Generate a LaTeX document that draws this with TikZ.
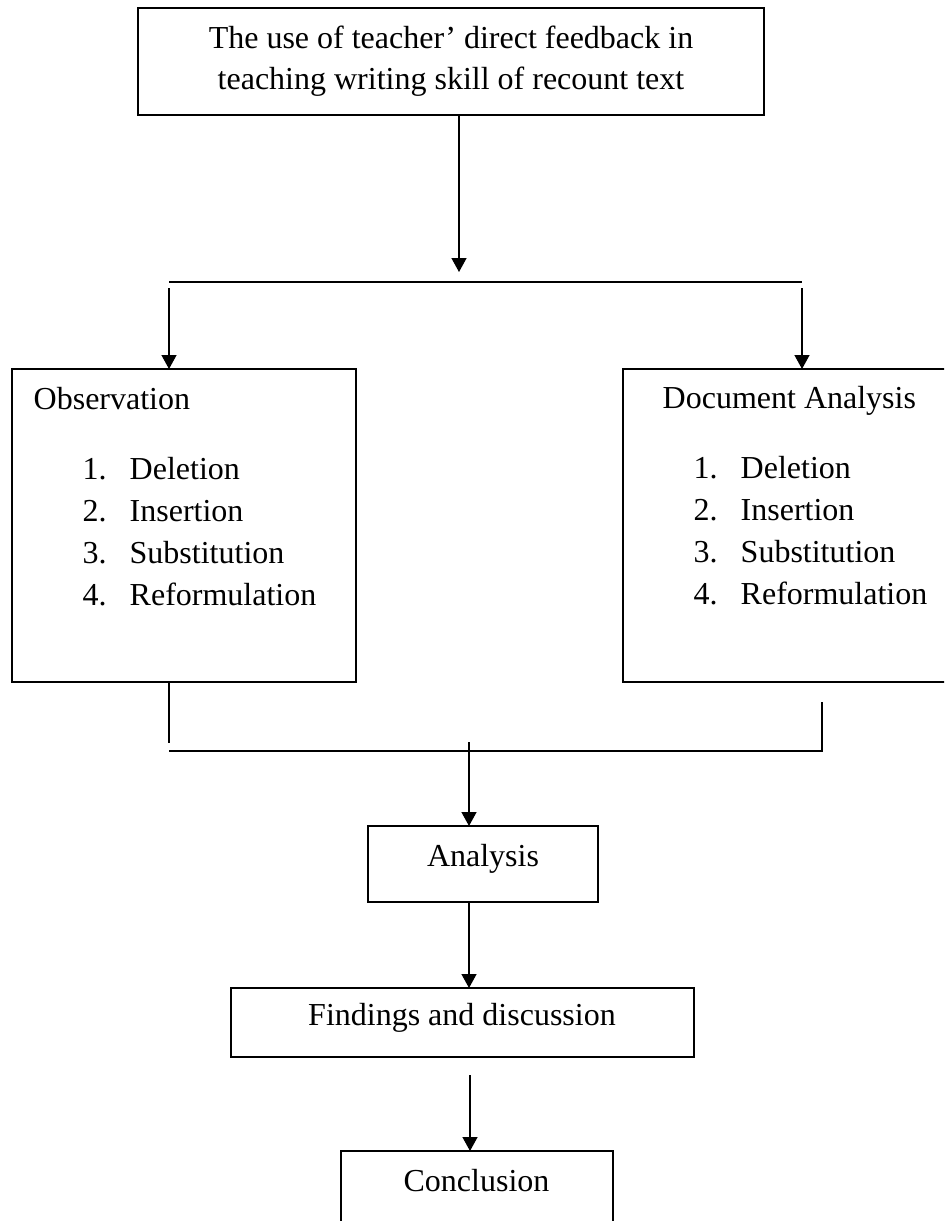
\documentclass[tikz,border=0pt]{standalone}
\usepackage{fontspec}
\setmainfont{Liberation Serif}
\usetikzlibrary{arrows.meta}

\begin{document}
\begin{tikzpicture}[x=0.5pt, y=-0.5pt, >={Triangle[length=7pt,width=7.5pt]},
    line width=0.7pt, font=\fontsize{16}{20}\selectfont,
    box/.style={draw, inner sep=0pt, outer sep=0pt},
    txt/.style={inner sep=0pt, anchor=base}]

    \useasboundingbox (0,0) rectangle (944,1221);
    \clip (0,0) rectangle (944,1221);

    % 1. 主题框
    \node[box, minimum width=313pt, minimum height=53.5pt] (title) at (451,61.5) {};
    \node[txt] (title1) at (451,48) {The use of teacher’ direct feedback in};
    \node[txt] (title2) at (451,89) {teaching writing skill of recount text};

    % 2. 两个方法框
    \node[box, minimum width=172pt, minimum height=156.5pt] (obs) at (184,525.5) {};
    \node[box, minimum width=172pt, minimum height=156.5pt] (doc) at (795,525.5) {};
    \node[txt, anchor=base west] (obsHead) at (33,409) {Observation};
    \node[txt, anchor=base west] (docHead) at (662,408) {Document Analysis};
    \foreach \item [count=\k] in {Deletion, Insertion, Substitution, Reformulation} {
        \node[txt, anchor=base west] (obsNum\k) at (82, 437+42*\k) {\k.};
        \node[txt, anchor=base west] (obsItem\k) at (129, 437+42*\k) {\item};
        \node[txt, anchor=base west] (docNum\k) at (693, 436+42*\k) {\k.};
        \node[txt, anchor=base west] (docItem\k) at (740, 436+42*\k) {\item};
    }

    % 3. 下面的三个框
    \node[box, minimum width=115pt, minimum height=38pt] (ana) at (483,864) {};
    \node[txt] (anaText) at (483,866) {Analysis};
    \node[box, minimum width=231.5pt, minimum height=34.5pt] (find) at (462.5,1022.5) {};
    \node[txt] (findText) at (462,1025) {Findings and discussion};
    \node[box, minimum width=136pt, minimum height=38pt] (concl) at (477,1189) {};
    \node[txt] (conclText) at (476.5,1191) {Conclusion};

    % 4. 分支线
    \coordinate (topTip) at (459,272);
    \coordinate (splitL) at (169,282);
    \coordinate (splitR) at (802,282);
    \coordinate (dropL) at (169,288);
    \coordinate (dropR) at (802,288);
    \draw[->] (title.south -| topTip) -- (topTip);
    \draw (splitL) -- (splitR);
    \draw[->] (dropL) -- (dropL |- obs.north);
    \draw[->] (dropR) -- (dropR |- doc.north);

    % 5. 汇合线
    \coordinate (legL) at (169,743);
    \coordinate (legR) at (822,702);
    \coordinate (joinL) at (169,751);
    \coordinate (joinR) at (822,751);
    \coordinate (stem) at (469,742);
    \coordinate (gap) at (470,1075);
    \draw (obs.south -| legL) -- (legL);
    \draw (legR) -- (joinR) -- (joinL);
    \draw[->] (stem) -- (stem |- ana.north);
    \draw[->] (ana.south -| stem) -- (stem |- find.north);
    \draw[->] (gap) -- (gap |- concl.north);
\end{tikzpicture}
\end{document}
